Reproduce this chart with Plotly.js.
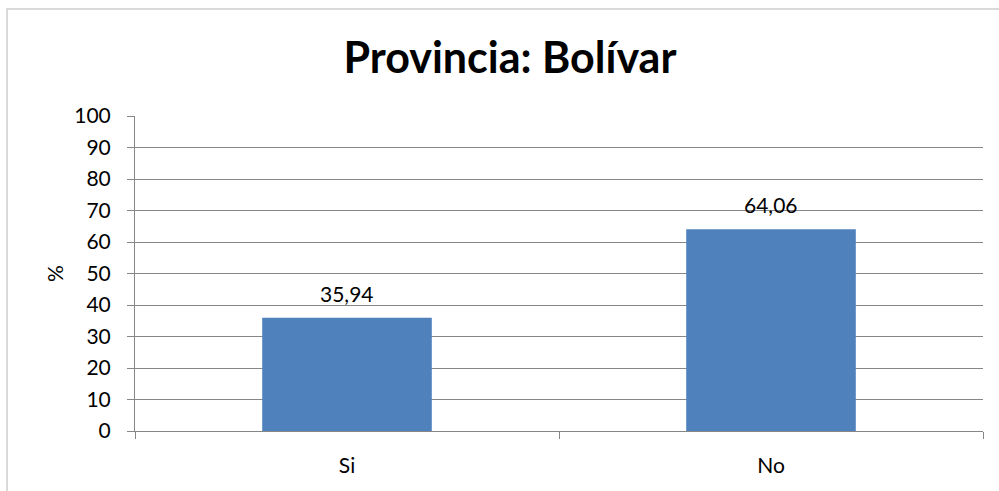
<!DOCTYPE html>
<html>
<head>
<meta charset="utf-8">
<script src="https://cdn.plot.ly/plotly-3.0.1.min.js"></script>
<style>html,body{margin:0;padding:0;background:#fff;}#chart{width:999px;height:491px;}</style>
</head>
<body>
<div id="chart"></div>
<script>
const categories = ["Si", "No"];
const values = [35.94, 64.06];
const labels = ["35,94", "64,06"];
const yTicks = [0, 10, 20, 30, 40, 50, 60, 70, 80, 90, 100];

const FONT = "Lato, 'Open Sans', sans-serif";
const trace = {
  type: "bar",
  x: categories,
  y: values,
  marker: {color: "#4F81BD"},
  hoverinfo: "none"
};

const annotations = categories.map((c, i) => ({
  x: c, y: values[i], xref: "x", yref: "y",
  text: labels[i], showarrow: false,
  yanchor: "bottom", yshift: 10,
  font: {family: FONT, size: 21, color: "#000"}
}));

const layout = {
  width: 999, height: 491,
  margin: {l: 135, r: 16, t: 116, b: 60},
  paper_bgcolor: "#fff", plot_bgcolor: "#fff",
  showlegend: false,
  bargap: 0.6,
  font: {family: FONT, size: 21, color: "#000"},
  title: {text: "<b>Provincia: Bolívar</b>", font: {family: FONT, size: 43, color: "#000"}, x: 0.5105, xanchor: "center", y: 0.882, yanchor: "middle"},
  xaxis: {
    showgrid: false, showline: true, linecolor: "#868686", linewidth: 1,
    ticks: "outside", ticklen: 7, tickcolor: "#868686", tickson: "boundaries",
    ticklabelstandoff: 16,
    tickfont: {family: FONT, size: 21, color: "#000"}, fixedrange: true,
    zeroline: false
  },
  yaxis: {
    range: [0, 100], tickvals: yTicks, showgrid: true, gridcolor: "#868686", gridwidth: 1,
    showline: true, linecolor: "#868686", linewidth: 1,
    ticks: "outside", ticklen: 7, tickcolor: "#868686",
    ticklabelstandoff: 12,
    tickfont: {family: FONT, size: 21, color: "#000"}, zeroline: false,
    title: {text: "%", font: {family: FONT, size: 21, color: "#000"}, standoff: 4}
  },
  annotations: annotations,
  shapes: [{
    type: "rect", xref: "paper", yref: "paper",
    x0: -0.1509, x1: 1.1, y0: -0.3, y1: 1.3397,
    line: {color: "#D9D9D9", width: 2}, fillcolor: "rgba(0,0,0,0)", layer: "below"
  }]
};

Plotly.newPlot("chart", [trace], layout, {staticPlot: true, displayModeBar: false});
</script>
</body>
</html>
